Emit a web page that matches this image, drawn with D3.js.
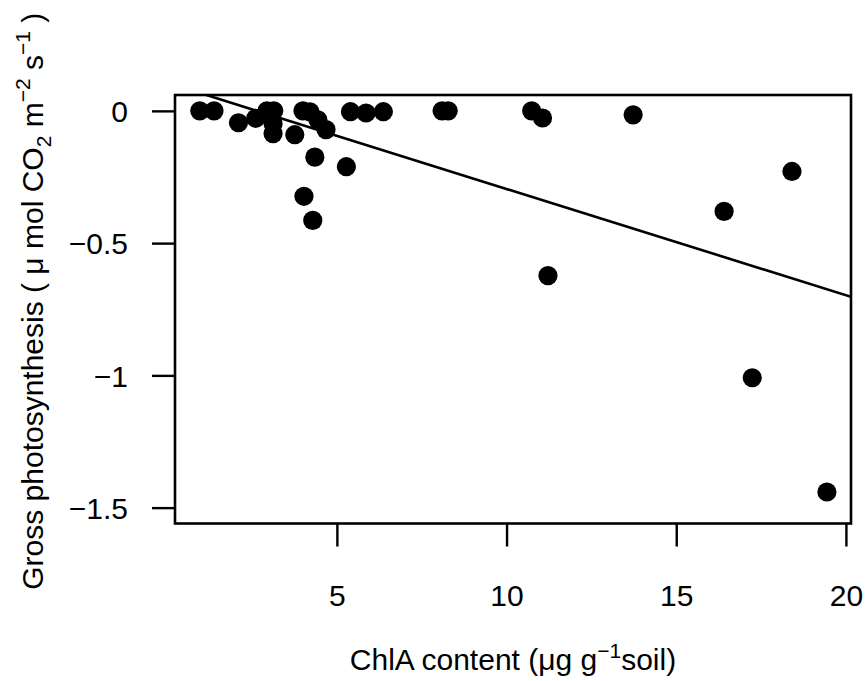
<!DOCTYPE html>
<html>
<head>
<meta charset="utf-8">
<script src="https://cdn.jsdelivr.net/npm/d3@7"></script>
<style>
  body { margin: 0; background: #fff; }
  text { font-family: "Liberation Sans", Arial, Helvetica, sans-serif; fill: #000; }
</style>
</head>
<body>
<svg id="chart" width="867" height="681"></svg>
<script>
// chlorophyll A content (ug / g soil) and gross photosynthesis
const chlA = [0.96, 1.38, 2.10, 2.61, 2.94, 3.14, 3.12, 3.12, 3.76, 4.00,
  4.21, 4.44, 4.68, 4.35, 5.28, 4.03, 4.29, 5.40, 5.86, 6.37,
  8.10, 8.28, 10.74, 11.06, 11.22, 13.73, 16.41, 18.41, 17.24, 19.44]
const gpp = [0, 0, -0.045, -0.028, 0, 0, -0.049, -0.086, -0.090, 0,
  -0.004, -0.034, -0.071, -0.175, -0.211, -0.323, -0.414, -0.003, -0.008, -0.003,
  0, 0, 0, -0.027, -0.623, -0.015, -0.380, -0.229, -1.009, -1.441]

const xTicks = [5, 10, 15, 20]
const xTickLabels = ['5', '10', '15', '20']
const yTicks = [0, -0.5, -1, -1.5]
const yTickLabels = ['0', '\u22120.5', '\u22121', '\u22121.5']

const xDomain = [0.23, 20.15]
const yDomain = [-1.56, 0.06]

const svg = d3.select('#chart')
const plot = { left: 175, right: 851, top: 95, bottom: 523.5 }
const fontSize = 30
const tickLen = 23

const x = d3.scaleLinear().domain(xDomain).range([plot.left, plot.right])
const y = d3.scaleLinear().domain(yDomain).range([plot.bottom, plot.top])

// least squares fit, like abline(lm(gpp ~ chlA))
const mx = d3.mean(chlA), my = d3.mean(gpp)
const sxy = d3.sum(chlA, (v, i) => (v - mx) * (gpp[i] - my))
const sxx = d3.sum(chlA, v => (v - mx) * (v - mx))
const slope = sxy / sxx
const intercept = my - slope * mx

svg.append('clipPath').attr('id', 'plotClip')
  .append('rect')
  .attr('x', plot.left).attr('y', plot.top)
  .attr('width', plot.right - plot.left).attr('height', plot.bottom - plot.top)

// points
svg.append('g')
  .selectAll('circle')
  .data(chlA)
  .enter()
  .append('circle')
  .attr('cx', d => x(d))
  .attr('cy', (d, i) => y(gpp[i]))
  .attr('r', 9.6)
  .attr('fill', '#000')

// regression line
svg.append('line')
  .attr('clip-path', 'url(#plotClip)')
  .attr('x1', x(xDomain[0])).attr('y1', y(intercept + slope * xDomain[0]))
  .attr('x2', x(xDomain[1])).attr('y2', y(intercept + slope * xDomain[1]))
  .attr('stroke', '#000')
  .attr('stroke-width', 2.6)

// box
svg.append('rect')
  .attr('x', plot.left).attr('y', plot.top)
  .attr('width', plot.right - plot.left).attr('height', plot.bottom - plot.top)
  .attr('fill', 'none')
  .attr('stroke', '#000')
  .attr('stroke-width', 2.6)

// x axis
const xAxis = d3.axisBottom(x)
  .tickValues(xTicks)
  .tickFormat((d, i) => xTickLabels[i])
  .tickSize(tickLen)
  .tickPadding(38)

const gx = svg.append('g')
  .attr('transform', `translate(0,${plot.bottom})`)
  .call(xAxis)
gx.select('.domain').remove()
gx.selectAll('line').attr('stroke', '#000').attr('stroke-width', 2.4)
gx.selectAll('text')
  .attr('font-size', fontSize)
  .attr('font-family', null)
  .attr('fill', '#000')

// y axis
const yAxis = d3.axisLeft(y)
  .tickValues(yTicks)
  .tickFormat((d, i) => yTickLabels[i])
  .tickSize(tickLen)
  .tickPadding(24)

const gy = svg.append('g')
  .attr('transform', `translate(${plot.left},0)`)
  .call(yAxis)
gy.select('.domain').remove()
gy.selectAll('line').attr('stroke', '#000').attr('stroke-width', 2.4)
gy.selectAll('text')
  .attr('font-size', fontSize)
  .attr('font-family', null)
  .attr('fill', '#000')
  .attr('dy', '0.36em')

// x title
const xt = svg.append('text')
  .attr('x', (plot.left + plot.right) / 2)
  .attr('y', 670)
  .attr('text-anchor', 'middle')
  .attr('font-size', fontSize)
xt.append('tspan').text('ChlA content (\u03bcg g')
xt.append('tspan').attr('dy', -12).attr('font-size', 21).text('\u22121')
xt.append('tspan').attr('dy', 12).text('soil)')

// y title
const yt = svg.append('text')
  .attr('transform', `translate(43,${(plot.top + plot.bottom) / 2 - 8}) rotate(-90)`)
  .attr('text-anchor', 'middle')
  .attr('font-size', fontSize)
yt.append('tspan').text('Gross photosynthesis ( \u03bc mol CO')
yt.append('tspan').attr('dy', 8).attr('font-size', 21).text('2')
yt.append('tspan').attr('dy', -8).text(' m')
yt.append('tspan').attr('dy', -13).attr('font-size', 21).text('\u22122')
yt.append('tspan').attr('dy', 13).text(' s')
yt.append('tspan').attr('dy', -13).attr('font-size', 21).text('\u22121')
yt.append('tspan').attr('dy', 13).text(' )')
</script>
</body>
</html>
